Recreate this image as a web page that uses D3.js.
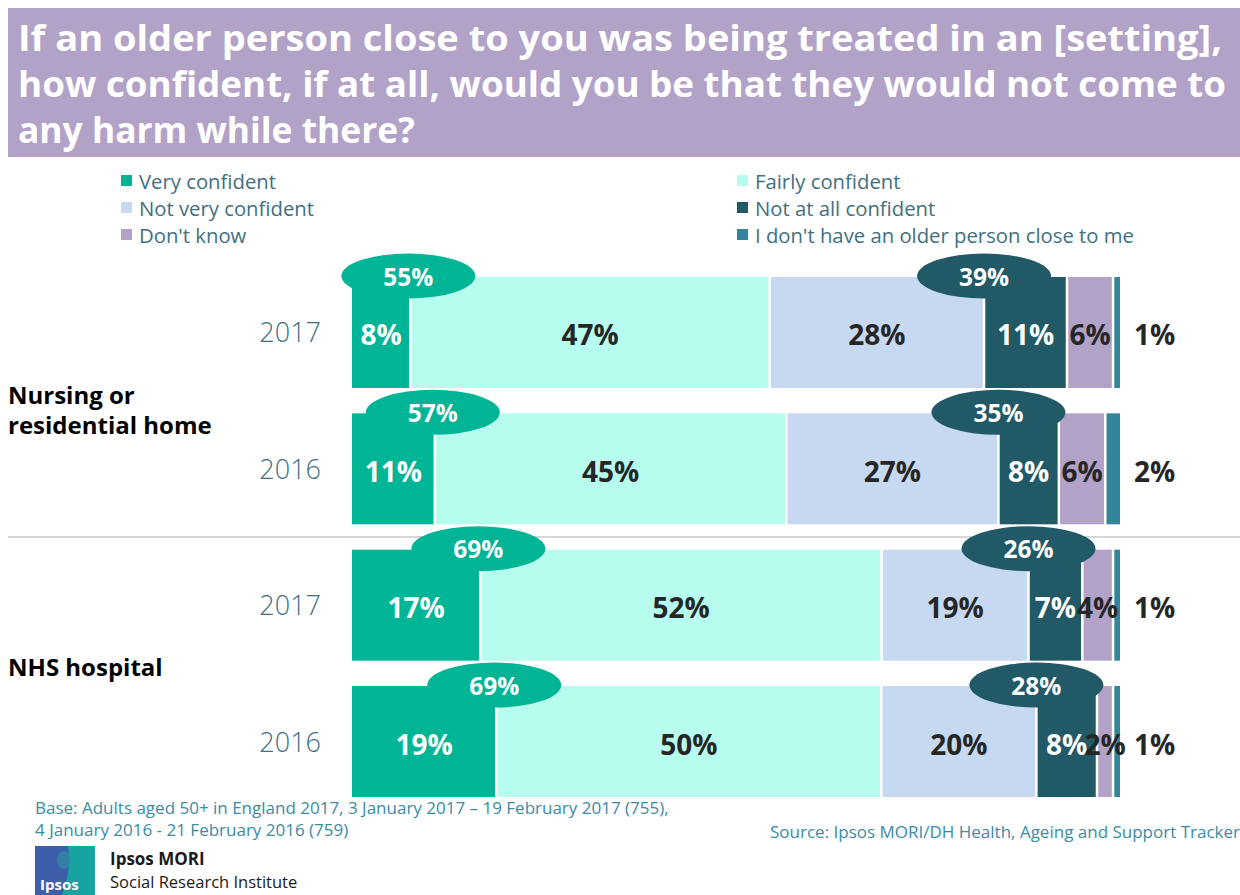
<!DOCTYPE html>
<html>
<head>
<meta charset="utf-8">
<script src="https://cdn.jsdelivr.net/npm/d3@7"></script>
<style>
  html, body { margin: 0; padding: 0; background: #fff; }
  svg { display: block; font-family: "Open Sans", "Noto Sans", sans-serif; }
</style>
</head>
<body>
<svg id="chart" width="1240" height="895"></svg>
<script>
// ---------------- DATA ----------------
const titleLines = [
  "If an older person close to you was being treated in an [setting],",
  "how confident, if at all, would you be that they would not come to",
  "any harm while there?"
];
const rowIds = ["nursing2017", "nursing2016", "nhs2017", "nhs2016"];
const rowYears = ["2017", "2016", "2017", "2016"];
const groupNames = [["Nursing or", "residential home"], ["NHS hospital"]];

const seriesNames = ["Very confident", "Fairly confident", "Not very confident",
  "Not at all confident", "Don't know", "I don't have an older person close to me"];
const veryConfident     = [7.6, 10.7, 16.7, 18.8];
const fairlyConfident   = [46.8, 45.4, 52.2, 50.2];
const notVeryConfident  = [27.9, 27.4, 19.1, 20.2];
const notAtAllConfident = [10.8, 7.8, 7.0, 7.9];
const dontKnow          = [6.0, 6.0, 4.0, 2.1];
const noOlderPerson     = [0.9, 1.9, 0.9, 0.9];
const netConfident      = [55, 57, 69, 69];
const netNotConfident   = [39, 35, 26, 28];

const seriesColors = ["#00b595", "#b6fdef", "#c6d9f0", "#215967", "#b3a2c7", "#31859c"];
const labelColors  = ["#ffffff", "#262626", "#262626", "#ffffff", "#262626", "#262626"];

const baseNote = [
  "Base: Adults aged 50+ in England 2017, 3 January 2017 \u2013 19 February 2017 (755),",
  "4 January 2016 - 21 February 2016 (759)"
];
const sourceNote = "Source: Ipsos MORI/DH Health, Ageing and Support Tracker";

// ---------------- BUILD ----------------
const svg = d3.select("#chart");
const seriesValues = [veryConfident, fairlyConfident, notVeryConfident, notAtAllConfident, dontKnow, noOlderPerson];
const table = rowIds.map((id, i) => {
  const o = { id };
  seriesNames.forEach((s, k) => o[s] = seriesValues[k][i]);
  return o;
});
const stack = d3.stack().keys(seriesNames).offset(d3.stackOffsetExpand);
const stacked = stack(table);

const x = d3.scaleLinear().domain([0, 1]).range([352, 1120]);
const y = d3.scaleBand().domain(rowIds).range([277, 797]).paddingInner(0.186).paddingOuter(0);

// Title banner
svg.append("rect").attr("x", 8).attr("y", 8).attr("width", 1232).attr("height", 149).attr("fill", "#b3a2c7");
const titleTargets = [1204, 1208, 397];
titleLines.forEach((t, i) => {
  svg.append("text").attr("x", 18).attr("y", 51 + i * 46)
    .attr("fill", "#fff").attr("font-weight", 700).attr("font-size", 35).text(t)
    .attr("textLength", titleTargets[i]).attr("lengthAdjust", "spacingAndGlyphs");
});

// Legend
const legendPos = [[121, 181], [737, 181], [121, 208], [737, 208], [121, 235], [737, 235]];
const legend = svg.append("g");
seriesNames.forEach((s, k) => {
  const [lx, ly] = legendPos[k];
  legend.append("rect").attr("x", lx).attr("y", ly - 6).attr("width", 11).attr("height", 11).attr("fill", seriesColors[k]);
  legend.append("text").attr("x", lx + 18).attr("y", ly + 7.5).attr("font-size", 20.3)
    .attr("fill", "#41707f").text(s);
});

// Separator line
const sepY = (y(rowIds[1]) + y.bandwidth() + y(rowIds[2])) / 2;
svg.append("line").attr("x1", 8).attr("x2", 1240).attr("y1", sepY).attr("y2", sepY)
  .attr("stroke", "#c8c8c8").attr("stroke-width", 1.5);

// Bars
const gap = 2.5;
const layers = svg.append("g").selectAll("g").data(stacked).join("g")
  .attr("fill", (d, k) => seriesColors[k]);
layers.selectAll("rect").data(d => d).join("rect")
  .attr("x", d => x(d[0]) + (d[0] > 0 ? gap / 2 : 0))
  .attr("width", d => x(d[1]) - x(d[0]) - (d[0] > 0 ? gap / 2 : 0) - (d[1] < 0.9999 ? gap / 2 : 0))
  .attr("y", d => y(d.data.id))
  .attr("height", y.bandwidth());

// Value labels
stacked.forEach((layer, k) => {
  layer.forEach((d, i) => {
    const v = Math.round(seriesValues[k][i]);
    const cy = y(d.data.id) + y.bandwidth() / 2 + 13;
    const last = k === seriesNames.length - 1;
    svg.append("text")
      .attr("x", last ? x(1) + 14 : (x(d[0]) + x(d[1])) / 2)
      .attr("y", cy)
      .attr("text-anchor", last ? "start" : "middle")
      .attr("font-size", 28).attr("font-weight", 700)
      .attr("fill", labelColors[k])
      .text(v + "%");
  });
});

// Net callout ellipses
const ellipses = svg.append("g");
rowIds.forEach((id, i) => {
  const top = y(id);
  const cx1 = x(stacked[0][i][1]) - 2;
  const cx2 = x(stacked[2][i][1]);
  [[cx1, seriesColors[0], netConfident[i]], [cx2, seriesColors[3], netNotConfident[i]]].forEach(([cx, col, val]) => {
    ellipses.append("ellipse").attr("cx", cx).attr("cy", top - 1).attr("rx", 67).attr("ry", 22.5).attr("fill", col);
    ellipses.append("text").attr("x", cx).attr("y", top + 8.5).attr("text-anchor", "middle")
      .attr("font-size", 24.5).attr("font-weight", 700).attr("fill", "#fff").text(val + "%");
  });
});

// Year labels
rowIds.forEach((id, i) => {
  svg.append("text").attr("x", 321).attr("y", y(id) + y.bandwidth() / 2 + 10)
    .attr("text-anchor", "end").attr("font-size", 27).attr("font-weight", 300)
    .attr("fill", "#3f6f80").text(rowYears[i]);
});

// Group labels
const groupBaselines = [[404, 434], [676]];
groupNames.forEach((lines, g) => {
  lines.forEach((l, j) => {
    svg.append("text").attr("x", 8).attr("y", groupBaselines[g][j])
      .attr("font-size", 24).attr("font-weight", 700).attr("fill", "#000").text(l);
  });
});

// Footnotes
baseNote.forEach((t, i) => {
  svg.append("text").attr("x", 35).attr("y", 814 + i * 22).attr("font-size", 17)
    .attr("fill", "#3b8ca3").text(t);
});
svg.append("text").attr("x", 1240).attr("y", 838).attr("text-anchor", "end").attr("font-size", 17)
  .attr("fill", "#3b8ca3").text(sourceNote);

// Logo
const logo = svg.append("g");
logo.append("rect").attr("x", 35).attr("y", 846).attr("width", 60).attr("height", 49).attr("fill", "#3d5ea8");
logo.append("path").attr("d", "M68,846 L95,846 L95,895 L62,895 Q72,870 68,846 Z").attr("fill", "#17a3a0");
logo.append("ellipse").attr("cx", 64).attr("cy", 860).attr("rx", 7).attr("ry", 9).attr("fill", "#2f8fa6").attr("opacity", 0.7);
logo.append("text").attr("x", 40).attr("y", 890).attr("font-size", 15).attr("font-weight", 700).attr("fill", "#fff").text("Ipsos");
svg.append("text").attr("x", 110).attr("y", 865).attr("font-size", 17).attr("font-weight", 700).attr("fill", "#1a1a1a").text("Ipsos MORI");
svg.append("text").attr("x", 110).attr("y", 888).attr("font-size", 16.5).attr("fill", "#1a1a1a").text("Social Research Institute");
</script>
</body>
</html>
